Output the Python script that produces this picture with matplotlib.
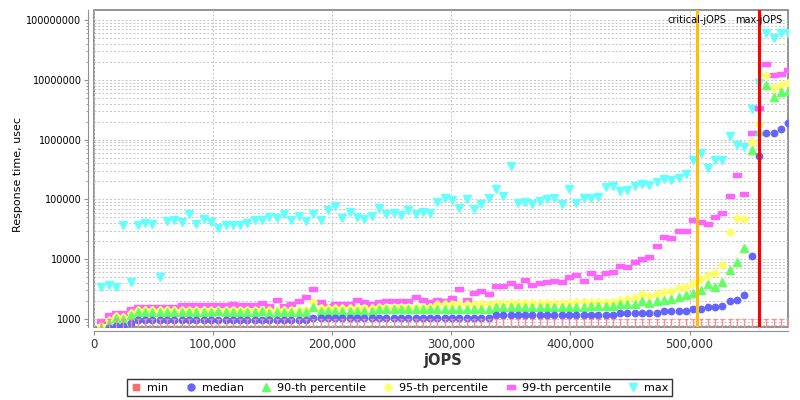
import numpy as np
import matplotlib
matplotlib.use('Agg')
import matplotlib.pyplot as plt
from matplotlib.path import Path
from matplotlib.lines import Line2D
from matplotlib.ticker import FixedLocator, LogLocator, NullFormatter

# jOPS steps (1% of HBIR each)
hbir = 613500
steps = np.arange(1, 96)
jops = steps * hbir / 100.0

critical_jops = 506000
max_jops = 558300

# response times, usec
rt_min = [1000, 1000, 1000, 1000, 1000, 1000, 1000, 1000, 1000, 1000,
          1000, 1000, 1000, 1000, 1000, 1000, 1000, 1000, 1000, 1000,
          1000, 1000, 1000, 1000, 1000, 1000, 1000, 1000, 1000, 1000,
          1000, 1000, 1000, 1000, 1000, 1000, 1000, 1000, 1000, 1000,
          1000, 1000, 1000, 1000, 1000, 1000, 1000, 1000, 1000, 1000,
          1000, 1000, 1000, 1000, 1000, 1000, 1000, 1000, 1000, 1000,
          1000, 1000, 1000, 1000, 1000, 1000, 1000, 1000, 1000, 1000,
          1000, 1000, 1000, 1000, 1000, 1000, 1000, 1000, 1000, 1000,
          1000, 1000, 1000, 1000, 1000, 1000, 1000, 1000, 1000, 1000,
          1000, 1000, 1000, 1000, 1000]

rt_median = [600, 700, 760, 760, 850, 950, 950, 950, 950, 950,
             950, 950, 950, 950, 950, 950, 950, 950, 950, 950,
             950, 950, 950, 950, 950, 950, 950, 950, 950, 1050,
             1050, 1050, 1050, 1050, 1050, 1050, 1050, 1050, 1050, 1050,
             1050, 1050, 1050, 1050, 1050, 1050, 1050, 1050, 1050, 1050,
             1050, 1050, 1050, 1050, 1150, 1150, 1150, 1150, 1150, 1150,
             1150, 1150, 1150, 1150, 1150, 1150, 1150, 1150, 1150, 1150,
             1150, 1240, 1240, 1240, 1240, 1240, 1240, 1360, 1360, 1360,
             1360, 1450, 1450, 1580, 1580, 1670, 1970, 2070, 2510, 11300,
             527000, 1290000, 1290000, 1500000, 1860000]

rt_p90 = [700, 860, 1050, 980, 1160, 1290, 1290, 1290, 1290, 1290,
          1290, 1290, 1290, 1290, 1290, 1290, 1380, 1290, 1290, 1290,
          1290, 1290, 1380, 1250, 1320, 1320, 1320, 1320, 1320, 1600,
          1380, 1380, 1380, 1380, 1380, 1380, 1380, 1380, 1470, 1470,
          1470, 1470, 1470, 1470, 1470, 1470, 1470, 1470, 1470, 1470,
          1470, 1470, 1470, 1470, 1600, 1600, 1600, 1600, 1600, 1600,
          1600, 1600, 1600, 1600, 1600, 1600, 1600, 1670, 1670, 1670,
          1670, 1780, 1780, 1780, 1970, 1870, 1970, 2070, 2180, 2350,
          2540, 2710, 3050, 3830, 3450, 4140, 6560, 9000, 15200, 674000,
          1370000, 8100000, 5200000, 6200000, 6600000]

rt_p95 = [760, 960, 1120, 1070, 1270, 1410, 1410, 1410, 1410, 1410,
          1410, 1410, 1410, 1410, 1410, 1410, 1410, 1410, 1410, 1410,
          1410, 1410, 1410, 1410, 1410, 1410, 1410, 1410, 1410, 1900,
          1500, 1500, 1500, 1500, 1500, 1500, 1500, 1500, 1600, 1600,
          1600, 1600, 1600, 1600, 1600, 1600, 1750, 1750, 1750, 1750,
          1750, 1750, 1750, 1750, 1850, 1850, 1850, 1850, 1850, 1850,
          1850, 1850, 1850, 1850, 1850, 1900, 1900, 1900, 1900, 1900,
          1900, 2070, 2180, 2270, 2610, 2420, 2610, 2820, 2930, 3280,
          3450, 3980, 4700, 5500, 5800, 7860, 28200, 48300, 47000, 900000,
          1820000, 11900000, 7300000, 8200000, 8800000]

rt_p99 = [940, 1150, 1240, 1240, 1470, 1570, 1570, 1570, 1570, 1570,
          1570, 1690, 1690, 1690, 1690, 1690, 1690, 1690, 1780, 1690,
          1690, 1690, 1870, 1670, 2070, 1670, 1780, 1990, 2300, 3120,
          1900, 1670, 1780, 1780, 1780, 2100, 1900, 1780, 1900, 1990,
          1990, 1990, 1990, 2300, 2100, 1900, 2100, 1970, 2210, 3200,
          2100, 2710, 2900, 2610, 3550, 3550, 4030, 3550, 4470, 3690,
          4030, 4180, 4350, 4180, 5080, 5410, 4250, 5900, 5080, 5800,
          6150, 7560, 7450, 8800, 10000, 10800, 16500, 23500, 22600, 29000,
          29700, 45900, 41400, 38500, 50000, 60000, 113000, 251000, 122000, 1290000,
          3340000, 18500000, 11900000, 12700000, 14500000]

rt_max = [3450, 3700, 3450, 36900, 4200, 37900, 40900, 38500, 4950, 43600,
          45800, 41800, 56200, 39300, 46900, 41800, 33300, 37300, 37300, 37300,
          39800, 44700, 44700, 51500, 48900, 57500, 44700, 52600, 43100, 56900,
          45800, 66300, 77400, 48900, 61400, 50800, 46900, 52600, 71600, 56200,
          59100, 54900, 65500, 57500, 61400, 59100, 90200, 104000, 98800, 71600,
          101000, 70000, 83600, 105000, 149000, 112000, 358000, 86000, 90000, 84700,
          93700, 101000, 107000, 84700, 147000, 86800, 107000, 104000, 111000, 161000,
          167000, 138000, 145000, 167000, 183000, 173000, 197000, 215000, 207000, 230000,
          268000, 447000, 596000, 330000, 459000, 464000, 1130000, 823000, 744000, 3250000,
          8800000, 60200000, 50600000, 60000000, 60000000]

labels = ['min', 'median', '90-th percentile', '95-th percentile', '99-th percentile', 'max']
colors = ['#FF6A6A', '#6464FF', '#64FF64', '#FFFF64', '#FF64FF', '#64FFFF']

# marker shapes
t_mark = Path([(-0.2, 0), (0.2, 0), (0, 0), (0, -1)],
              [Path.MOVETO, Path.LINETO, Path.MOVETO, Path.LINETO])
bar_mark = Path([(-1, -0.55), (1, -0.55), (1, 0.55), (-1, 0.55), (-1, -0.55)],
                [Path.MOVETO, Path.LINETO, Path.LINETO, Path.LINETO, Path.CLOSEPOLY])

fig = plt.figure(figsize=(8, 4), dpi=100)
ax = fig.add_axes([0.1175, 0.182, 0.868, 0.793])

ax.plot(jops, rt_max, ls='none', marker='v', ms=5.2, color=colors[5], mec=colors[5], zorder=3)
ax.plot(jops, rt_p99, ls='none', marker=bar_mark, ms=5.8, color=colors[4], mec=colors[4], zorder=4)
ax.plot(jops, rt_p95, ls='none', marker='D', ms=3.8, color=colors[3], mec=colors[3], zorder=5)
ax.plot(jops, rt_p90, ls='none', marker='^', ms=5.2, color=colors[2], mec=colors[2], zorder=6)
ax.plot(jops, rt_median, ls='none', marker='o', ms=4.6, color=colors[1], mec=colors[1], zorder=7)
ax.plot(jops, rt_min, ls='none', marker=t_mark, ms=16, mew=1.0, color=colors[0], mec='#FF8C8C', zorder=8)

ax.axvline(critical_jops, color='#FFC000', lw=2.2, zorder=9)
ax.axvline(max_jops, color='#FF0000', lw=2.2, zorder=9)
ax.text(critical_jops, 1.0e8, 'critical-jOPS', ha='center', va='center', fontsize=7, zorder=10)
ax.text(max_jops, 1.0e8, 'max-jOPS', ha='center', va='center', fontsize=7, zorder=10)

ax.set_yscale('log')
ax.set_xlim(0, 583000)
ax.set_ylim(727, 1.47e8)

yt = [1000, 10000, 100000, 1000000, 10000000, 100000000]
ax.yaxis.set_major_locator(FixedLocator(yt))
ax.set_yticklabels([str(v) for v in yt])
ax.yaxis.set_minor_locator(LogLocator(base=10, subs=np.arange(2, 10)))
ax.yaxis.set_minor_formatter(NullFormatter())

xt = [0, 100000, 200000, 300000, 400000, 500000]
ax.set_xticks(xt)
ax.set_xticklabels(['{:,}'.format(v) for v in xt])

ax.grid(which='major', axis='x', color='#c4c4c4', ls=(0, (2, 2)), lw=0.7)
ax.grid(which='both', axis='y', color='#c4c4c4', ls=(0, (2, 2)), lw=0.7)

for s in ['top', 'right']:
    ax.spines[s].set_visible(False)
ax.spines['left'].set_position(('outward', 4))
ax.spines['bottom'].set_position(('outward', 3))
ax.spines['left'].set_color('#909090')
ax.spines['bottom'].set_color('#909090')
ax.patch.set_edgecolor('#808080')
ax.patch.set_linewidth(1.2)

ax.tick_params(axis='y', which='major', labelsize=7, length=3, pad=2, color='#909090')
ax.tick_params(axis='y', which='minor', length=1.5, color='#909090')
ax.tick_params(axis='x', labelsize=8.5, length=3, pad=1.5, color='#909090', labelcolor='#333333')

fig.text(0.022, 0.565, 'Response time, usec', rotation=90, ha='center', va='center', fontsize=8)
fig.text(0.553, 0.1, 'jOPS', ha='center', va='center', fontsize=10.5, fontweight='bold', color='#333333')

handles = [
    Line2D([], [], ls='none', marker='s', ms=5, color=colors[0]),
    Line2D([], [], ls='none', marker='o', ms=5, color=colors[1]),
    Line2D([], [], ls='none', marker='^', ms=5.5, color=colors[2]),
    Line2D([], [], ls='none', marker='D', ms=4, color=colors[3]),
    Line2D([], [], ls='none', marker=bar_mark, ms=6, color=colors[4]),
    Line2D([], [], ls='none', marker='v', ms=5.5, color=colors[5]),
]
leg = fig.legend(handles, labels, loc='center', bbox_to_anchor=(0.4994, 0.031), ncol=6,
                 fontsize=8, frameon=True, fancybox=False, edgecolor='black',
                 handlelength=1.0, handletextpad=0.5, columnspacing=1.5, borderpad=0.3,
                 borderaxespad=0)
leg.get_frame().set_linewidth(1.0)

fig.savefig('out.png', dpi=100)
